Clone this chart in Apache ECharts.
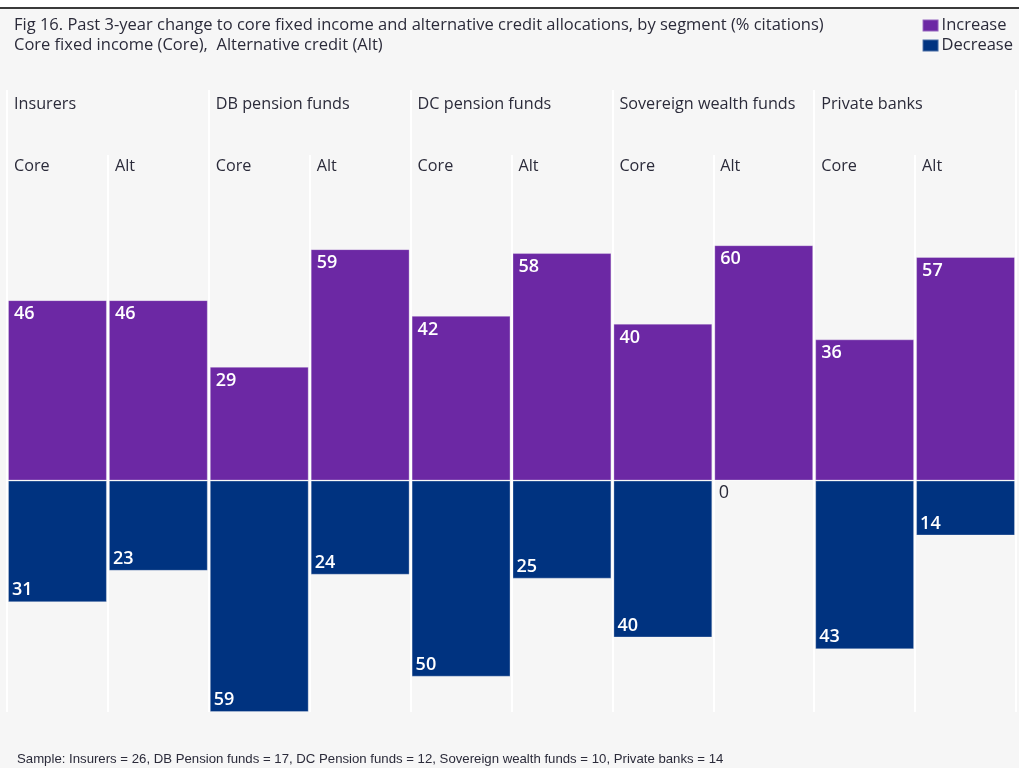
<!DOCTYPE html>
<html>
<head>
<meta charset="utf-8">
<script src="https://cdn.jsdelivr.net/npm/echarts@6/dist/echarts.min.js"></script>
<style>
html,body{margin:0;padding:0;background:#f6f6f6;}
#chart{width:1019px;height:768px;}
</style>
</head>
<body>
<div id="chart"></div>
<script>
const groups = ['Insurers', 'DB pension funds', 'DC pension funds', 'Sovereign wealth funds', 'Private banks'];
const subLabels = ['Core', 'Alt'];
const increase = [46, 46, 29, 59, 42, 58, 40, 60, 36, 57];
const decrease = [31, 23, 59, 24, 50, 25, 40, 0, 43, 14];

const categories = [];
groups.forEach(g => subLabels.forEach(s => categories.push(g + ' ' + s)));
const subAxisLabels = [];
groups.forEach(() => subLabels.forEach(s => subAxisLabels.push(s)));
subAxisLabels.push('');
const groupAxisLabels = groups.concat(['']);

const FONT = '"Open Sans", sans-serif';
const TXT = '#2b2b3a';
const PURPLE = '#6c28a4';
const NAVY = '#003380';

const chart = echarts.init(document.getElementById('chart'));

const decreaseData = decrease.map(v => v === 0
  ? { value: 0, label: { position: 'insideTopLeft', distance: 4, color: TXT, fontWeight: 'normal' } }
  : -v);

chart.setOption({
  backgroundColor: '#f6f6f6',
  animation: false,
  title: {
    text: 'Fig 16. Past 3-year change to core fixed income and alternative credit allocations, by segment (% citations)\nCore fixed income (Core),  Alternative credit (Alt)',
    left: 14, top: 15,
    padding: 0,
    textStyle: { fontFamily: FONT, fontSize: 16.5, fontWeight: 'normal', color: TXT, lineHeight: 20 }
  },
  legend: {
    orient: 'vertical',
    right: 6, top: 17,
    itemWidth: 16, itemHeight: 12, itemGap: 3,
    icon: 'rect',
    padding: 0,
    textStyle: { fontFamily: FONT, fontSize: 16.5, color: TXT, padding: [0, 0, 0, -2] },
    data: ['Increase', 'Decrease']
  },
  graphic: [
    { type: 'rect', left: 0, top: 0, shape: { width: 1019, height: 7 }, style: { fill: '#ffffff' }, silent: true },
    { type: 'rect', left: 0, top: 7, shape: { width: 1019, height: 2 }, style: { fill: '#3a3a3a' }, silent: true },
    { type: 'text', left: 17, top: 753, style: { text: 'Sample: Insurers = 26, DB Pension funds = 17, DC Pension funds = 12, Sovereign wealth funds = 10, Private banks = 14', font: '13.2px "Liberation Sans", Arial, sans-serif', fill: TXT } }
  ],
  grid: [
    { left: 7, right: 0, top: 90, bottom: 56 },
    { left: 7, right: 0, top: 155, bottom: 56 }
  ],
  xAxis: [
    {
      gridIndex: 0, type: 'category', boundaryGap: false, data: groupAxisLabels, position: 'top',
      axisLine: { show: false }, axisTick: { show: false },
      axisLabel: { inside: true, interval: 0, align: 'left', margin: 6, padding: [0, 0, 0, 7], fontFamily: FONT, fontSize: 16.2, color: TXT },
      splitLine: { show: true, lineStyle: { color: '#ffffff', width: 2 } }
    },
    {
      gridIndex: 1, type: 'category', boundaryGap: true, data: categories, show: false
    },
    {
      gridIndex: 1, type: 'category', boundaryGap: false, data: subAxisLabels, position: 'top',
      axisLine: { show: false }, axisTick: { show: false },
      axisLabel: { inside: true, interval: 0, align: 'left', margin: 3, padding: [0, 0, 0, 7], fontFamily: FONT, fontSize: 16.2, color: TXT },
      splitLine: { show: true, lineStyle: { color: '#ffffff', width: 2 } }
    }
  ],
  yAxis: [
    { gridIndex: 0, type: 'value', show: false, min: 0, max: 1 },
    { gridIndex: 1, type: 'value', show: false, min: -59, max: 83 }
  ],
  series: [
    {
      name: 'Increase', type: 'bar', xAxisIndex: 1, yAxisIndex: 1,
      barWidth: '98%', barGap: '-100%',
      itemStyle: { color: PURPLE, borderColor: 'rgba(255,255,255,0.28)', borderWidth: 1 },
      label: { show: true, position: 'insideTopLeft', distance: 5, offset: [1, 0], color: '#ffffff', fontFamily: FONT, fontSize: 18, fontWeight: 600 },
      data: increase
    },
    {
      name: 'Decrease', type: 'bar', xAxisIndex: 1, yAxisIndex: 1,
      barWidth: '98%', barGap: '-100%',
      itemStyle: { color: NAVY, borderColor: 'rgba(255,255,255,0.28)', borderWidth: 1 },
      label: { show: true, position: 'insideBottomLeft', distance: 3, offset: [1, 0], color: '#ffffff', fontFamily: FONT, fontSize: 18, fontWeight: 600,
        formatter: p => String(Math.abs(p.value)) },
      data: decreaseData
    }
  ]
});
</script>
</body>
</html>
